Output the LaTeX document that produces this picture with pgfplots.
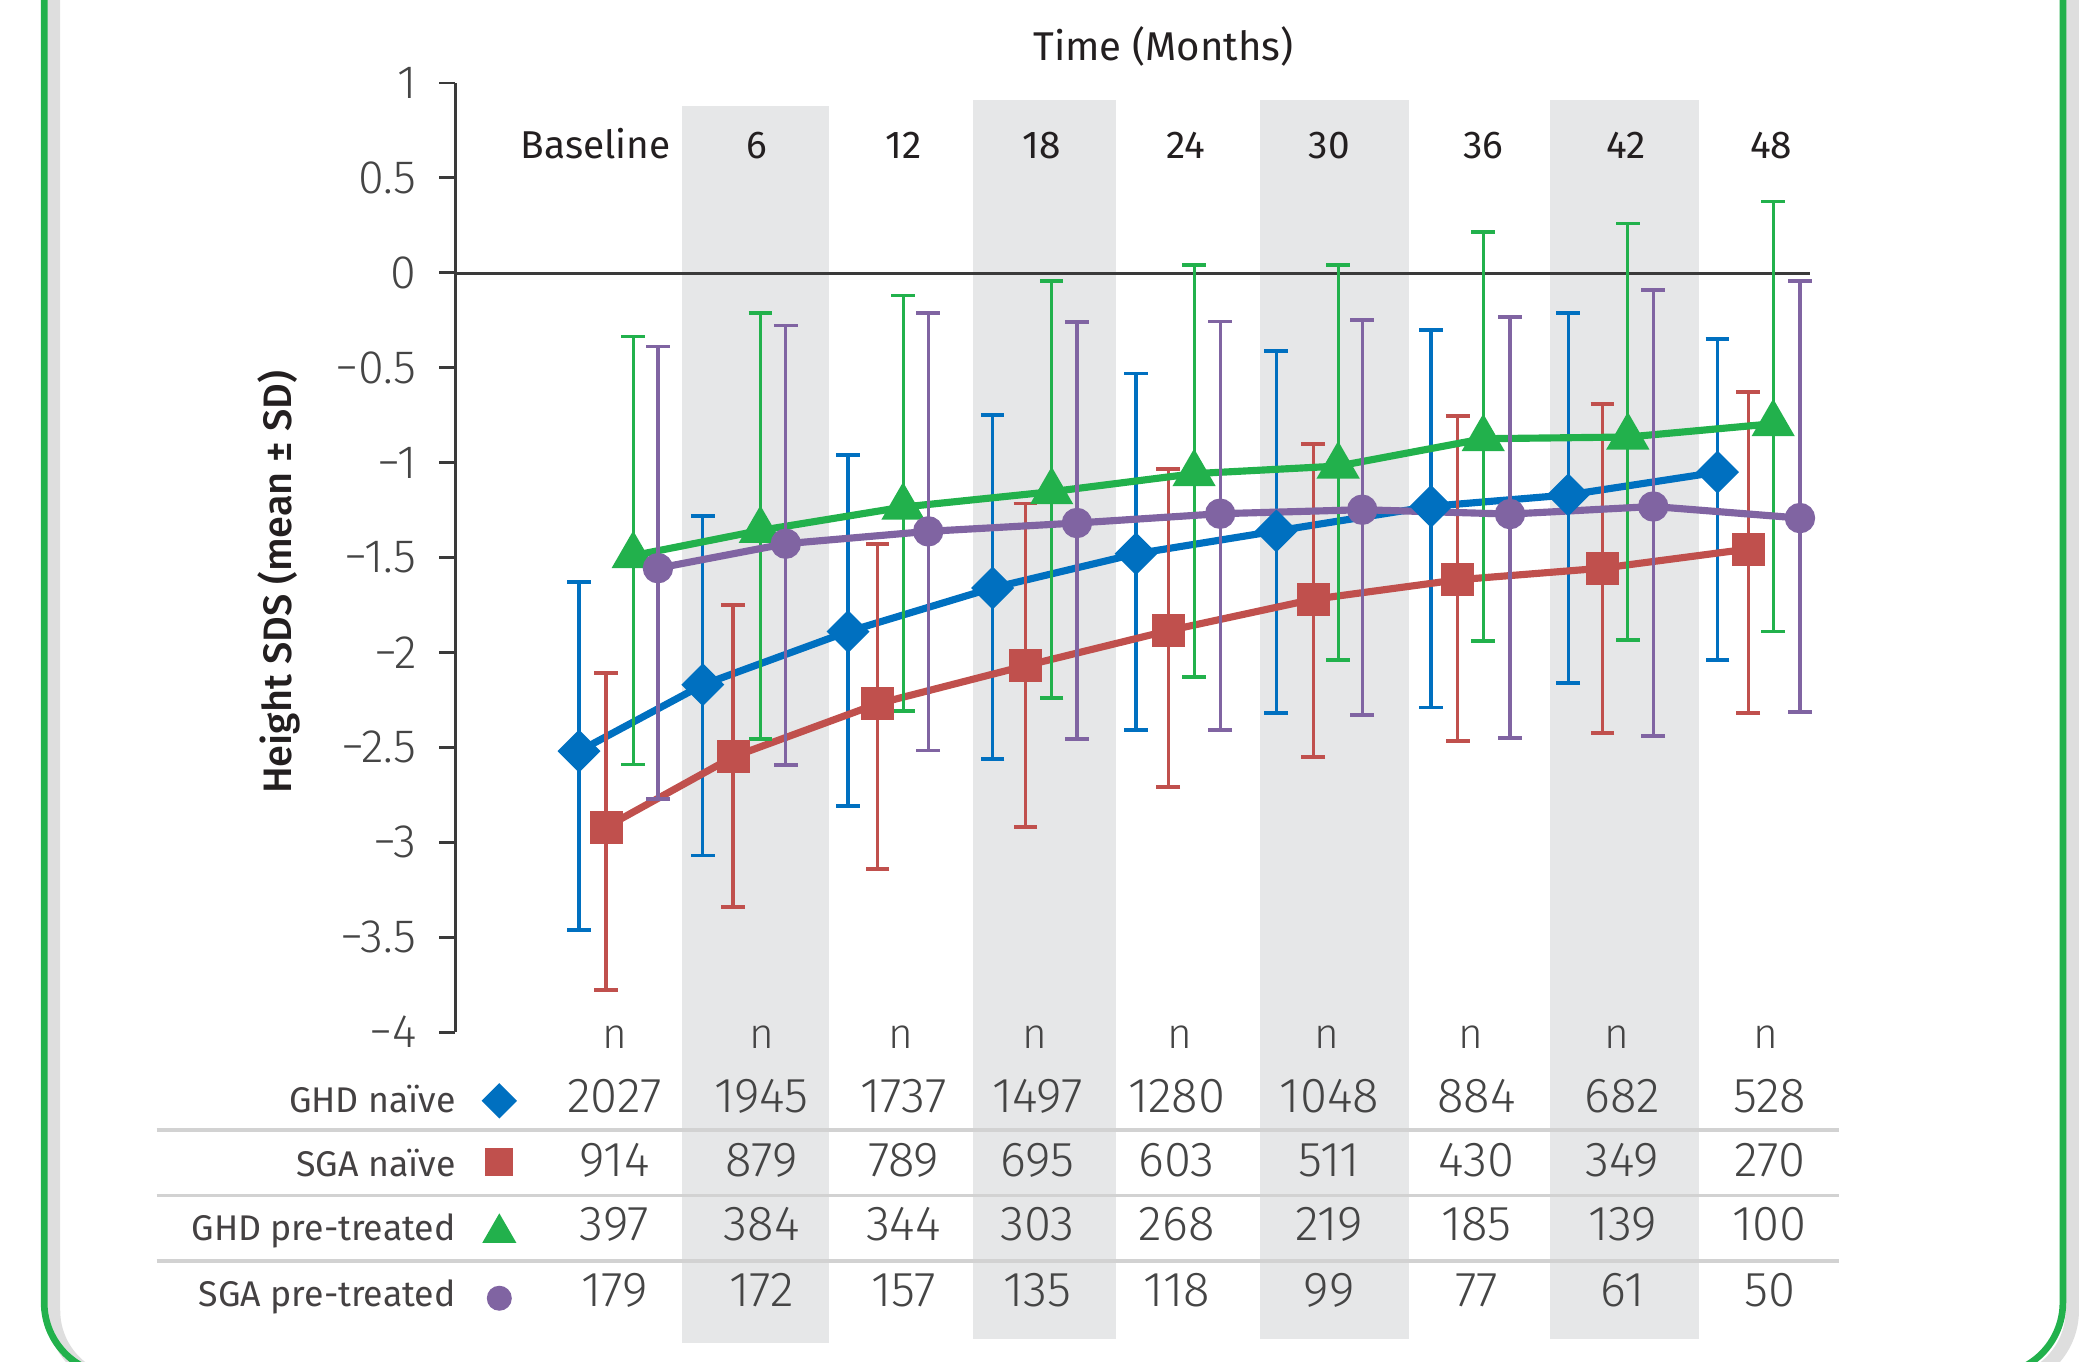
\documentclass[border=0pt]{standalone}
\usepackage{pgfplots}
\pgfplotsset{compat=1.18}
\usepackage{pgfplotstable}
\usepackage{fontspec}
\setmainfont{Fira Sans}
\newfontfamily\light{Fira Sans Light}
\newfontfamily\medium{Fira Sans Medium}
\definecolor{cblue}{HTML}{0070C0}
\definecolor{cred}{HTML}{C0504D}
\definecolor{cgreen}{HTML}{22B14C}
\definecolor{cpurple}{HTML}{8064A2}
\definecolor{band}{HTML}{E6E7E8}
\definecolor{sep}{HTML}{D2D2D2}
\definecolor{txt}{HTML}{231F20}
\definecolor{ltxt}{HTML}{454545}
\definecolor{axc}{HTML}{3A3A3A}

% x = horizontal position (chart px), y = mean height SDS, ep/em = upper/lower SD
\pgfplotstableread{
x      y      ep    em
432.5  -2.52  0.89  0.94
525    -2.17  0.89  0.90
633.5  -1.89  0.93  0.92
741.5  -1.66  0.91  0.90
848.6  -1.48  0.95  0.93
953.4  -1.36  0.95  0.96
1069   -1.23  0.93  1.06
1171.5 -1.17  0.96  0.99
1283   -1.05  0.70  0.99
}\ghdnaive
\pgfplotstableread{
x      y      ep    em
452.7  -2.92  0.81  0.86
547.6  -2.55  0.80  0.79
655.6  -2.27  0.84  0.87
766    -2.07  0.855 0.85
872.7  -1.885 0.85  0.825
981    -1.72  0.82  0.83
1089   -1.617 0.864 0.848
1197   -1.556 0.866 0.87
1306   -1.455 0.829 0.862
}\sganaive
\pgfplotstableread{
x      y      ep    em
473    -1.49  1.155 1.10
568    -1.357 1.145 1.10
674.6  -1.234 1.115 1.076
785.6  -1.153 1.11  1.087
892    -1.058 1.10  1.073
999.6  -1.018 1.06  1.02
1108   -0.874 1.09  1.064
1216   -0.865 1.125 1.068
1324.6 -0.795 1.171 1.094
}\ghdpre
\pgfplotstableread{
x      y      ep    em
491.5  -1.556 1.168 1.216
587    -1.427 1.15  1.165
693.4  -1.362 1.15  1.154
804.5  -1.318 1.057 1.136
911.5  -1.269 1.013 1.141
1017.6 -1.248 0.999 1.08
1128   -1.271 1.038 1.18
1235   -1.231 1.139 1.211
1344.6 -1.292 1.247 1.021
}\sgapre

\pgfplotsset{
  ser/.style={color=#1, line width=1.6pt,
    error bars/y dir=both, error bars/y explicit,
    error bars/error bar style={line width=0.7pt, color=#1},
    error bars/error mark options={rotate=90, line width=0.85pt, mark size=2.65pt, color=#1}},
}

\begin{document}
\begin{tikzpicture}
\begin{scope}[x=0.3pt,y=-0.3pt]
\path[use as bounding box] (0,0) rectangle (1568,1017);
% frame
\draw[black!13, line width=3pt, rounded corners=16.2pt] (40,-30) -- (40,1033) -- (1548,1033) -- (1548,-30);
\draw[cgreen, line width=1.5pt, rounded corners=16.2pt] (33,-30) -- (33,1027) -- (1541,1027) -- (1541,-30);
% bands
\fill[band] (509.5,79) rectangle (619,1003);
\fill[band] (727,75) rectangle (834,1000);
\fill[band] (941,75) rectangle (1052.5,1000);
\fill[band] (1158,75) rectangle (1269,1000);
% zero line
\draw[axc, line width=0.65pt] (340,204) -- (1352,204);
\end{scope}

\begin{axis}[
  at={(102pt,-231.3pt)}, anchor=south west,
  scale only axis, width=303.6pt, height=212.7pt,
  xmin=340, xmax=1352, ymin=-4, ymax=1,
  clip=false,
  axis x line=none, axis y line*=left,
  axis line style={axc, line width=0.65pt},
  ytick={-4,-3.5,-3,-2.5,-2,-1.5,-1,-0.5,0,0.5,1},
  yticklabels={−4,−3.5,−3,−2.5,−2,−1.5,−1,−0.5,0,0.5,1},
  yticklabel style={font=\light\fontsize{10.5}{12}\selectfont, text=ltxt, xshift=-1.5pt},
  tick align=outside, major tick length=3.6pt,
  ytick style={axc, line width=0.65pt},
]
\addplot[ser=cblue, mark=square*, mark size=2.6pt, mark options={rotate=45, fill=cblue, draw=none}]
  table[x=x, y=y, y error plus=ep, y error minus=em] {\ghdnaive};
\addplot[ser=cred, mark=square*, mark size=2.9pt, mark options={fill=cred, draw=none}]
  table[x=x, y=y, y error plus=ep, y error minus=em] {\sganaive};
\addplot[ser=cgreen, mark=triangle*, mark size=4pt, mark options={fill=cgreen, draw=none}]
  table[x=x, y=y, y error plus=ep, y error minus=em] {\ghdpre};
\addplot[ser=cpurple, mark=*, mark size=2.6pt, mark options={fill=cpurple, draw=none}]
  table[x=x, y=y, y error plus=ep, y error minus=em] {\sgapre};
% legend symbols of the table rows
\addplot[only marks, color=cblue, mark=square*, mark size=2.6pt, mark options={rotate=45, fill=cblue, draw=none}] coordinates {(373,-4.362)};
\addplot[only marks, color=cred, mark=square*, mark size=2.9pt, mark options={fill=cred, draw=none}] coordinates {(373,-4.683)};
\addplot[only marks, color=cgreen, mark=triangle*, mark size=4pt, mark options={fill=cgreen, draw=none}] coordinates {(373,-5.058)};
\addplot[only marks, color=cpurple, mark=*, mark size=2.6pt, mark options={fill=cpurple, draw=none}] coordinates {(373,-5.402)};
\end{axis}

\begin{scope}[x=0.3pt,y=-0.3pt]
% title and headers
\node[anchor=base, text=txt, font=\fontsize{9}{10}\selectfont] at (869,45) {Time (Months)};
\foreach \xx/\lab in {445/Baseline,565/6,675/12,778/18,886/24,993/30,1108/36,1215/42,1323/48}
  \node[anchor=base, text=txt, font=\fontsize{8.7}{10}\selectfont] at (\xx,118.5) {\lab};
% y label
\node[rotate=90, anchor=base, text=txt, font=\medium\fontsize{8.9}{10}\selectfont] at (218,435) {Height SDS (mean ± SD)};
% separators
\foreach \yy in {844,893,942}
  \draw[sep, line width=0.75pt] (117,\yy) -- (1374,\yy);
% n row
\foreach \xx in {459,569,673,773,881,991,1099,1208,1319}
  \node[anchor=base, text=ltxt, font=\light\fontsize{9.5}{10}\selectfont] at (\xx,783) {n};
% row labels
\node[anchor=base east, inner sep=0pt, text=txt!85, font=\fontsize{8}{10}\selectfont] at (341,831) {GHD naïve};
\node[anchor=base east, inner sep=0pt, text=txt!85, font=\fontsize{8}{10}\selectfont] at (341,879) {SGA naïve};
\node[anchor=base east, inner sep=0pt, text=txt!85, font=\fontsize{8}{10}\selectfont] at (341,927) {GHD pre-treated};
\node[anchor=base east, inner sep=0pt, text=txt!85, font=\fontsize{8}{10}\selectfont] at (341,976) {SGA pre-treated};
% n values
\foreach \xx/\a/\b/\c/\d in {459/2027/914/397/179, 569/1945/879/384/172, 675/1737/789/344/157, 775/1497/695/303/135, 879/1280/603/268/118, 993/1048/511/219/99, 1103/884/430/185/77, 1212/682/349/139/61, 1322/528/270/100/50}{
  \node[anchor=base, text=ltxt, font=\light\fontsize{11}{12}\selectfont] at (\xx,831) {\a};
  \node[anchor=base, text=ltxt, font=\light\fontsize{11}{12}\selectfont] at (\xx,879) {\b};
  \node[anchor=base, text=ltxt, font=\light\fontsize{11}{12}\selectfont] at (\xx,927) {\c};
  \node[anchor=base, text=ltxt, font=\light\fontsize{11}{12}\selectfont] at (\xx,976) {\d};
}
\end{scope}
\pgfresetboundingbox
\path[use as bounding box] (0,0) rectangle (470.4pt,-305.1pt);
\end{tikzpicture}
\end{document}
